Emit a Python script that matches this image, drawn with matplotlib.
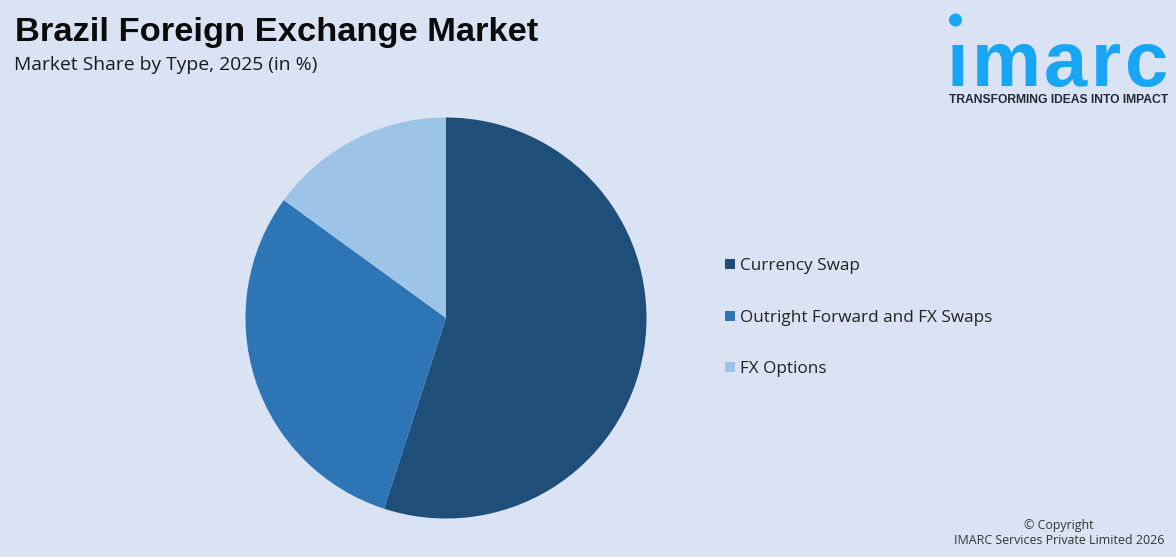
import matplotlib
matplotlib.use("Agg")
from matplotlib import pyplot as plt
from matplotlib.patches import Circle, Rectangle

categories = ["Currency Swap", "Outright Forward and FX Swaps", "FX Options"]
shares = [55, 30, 15]
colors = ["#1F4E79", "#2E75B6", "#9DC3E6"]
legend_y = [264, 316, 367]
logo_letters = ["\u0131", "m", "a", "r", "c"]
logo_x = [946, 972, 1044, 1091, 1125]

W, H = 1176, 557
BG = "#DAE3F3"
BODY = ['Open Sans', 'DejaVu Sans']
HEAD = ['Liberation Sans', 'DejaVu Sans']
plt.rcParams['font.family'] = BODY

fig = plt.figure(figsize=(W/100, H/100), dpi=100, facecolor=BG)

# overlay in pixel coords, y pointing down
ov = fig.add_axes([0, 0, 1, 1])
ov.set_xlim(0, W)
ov.set_ylim(H, 0)
ov.axis("off")

cx, cy, r = 446, 318, 200.5
ax = fig.add_axes([(cx-r)/W, 1-(cy+r)/H, 2*r/W, 2*r/H])
ax.pie(shares, colors=colors, startangle=90, counterclock=False, radius=1)
ax.set_xlim(-1, 1)
ax.set_ylim(-1, 1)

ov.text(15, 32, "Brazil Foreign Exchange Market", fontsize=24.8, fontweight="bold",
        color="#0B0B0B", va="center", ha="left", family=HEAD)
ov.text(14, 65, "Market Share by Type, 2025 (in %)", fontsize=13.85, color="#1A1A1A",
        va="center", ha="left")

for name, col, y in zip(categories, colors, legend_y):
    ov.add_patch(Rectangle((725, y-5), 10, 10, facecolor=col, edgecolor="none"))
    ov.text(740.5, y+2, name, fontsize=12.3, color="#222222", va="center", ha="left")

ov.text(1059, 525, "\u00a9 Copyright", fontsize=8.9, color="#333333", va="center", ha="center")
ov.text(1059, 541, "IMARC Services Private Limited 2026", fontsize=8.9, color="#333333",
        va="center", ha="center")

# logo
ov.add_patch(Circle((955.5, 20), 6.5, facecolor="#17A5F5", edgecolor="none"))
for ch, x in zip(logo_letters, logo_x):
    ov.text(x, 86, ch, fontsize=56, fontweight="bold", color="#17A5F5",
            va="baseline", ha="left", family=HEAD)
ov.text(1058.5, 100, "TRANSFORMING IDEAS INTO IMPACT", fontsize=8.7, fontweight="bold",
        color="#1F2A33", va="center", ha="center", family=HEAD)

fig.savefig("out.png", dpi=100, facecolor=BG)
